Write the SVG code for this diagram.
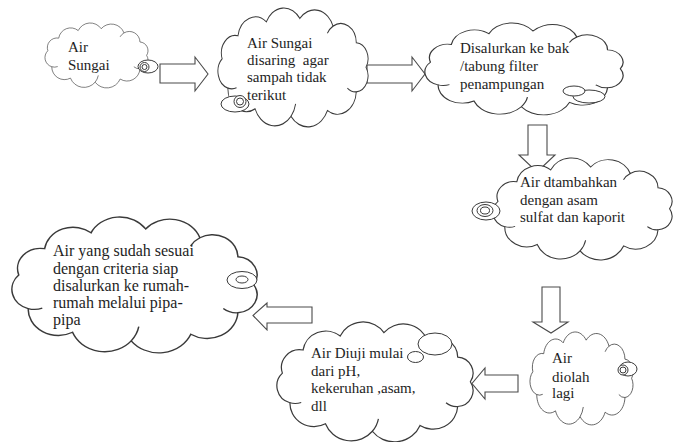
<svg xmlns="http://www.w3.org/2000/svg" xmlns:xlink="http://www.w3.org/1999/xlink" width="673" height="442" viewBox="0 0 673 442">
<style>
.cl{fill:#fff;stroke:#3a3a3a;stroke-width:1.1;vector-effect:non-scaling-stroke}
.ci{fill:none;stroke:#3a3a3a;stroke-width:1.1;vector-effect:non-scaling-stroke}
.bub{fill:#fff;stroke:#3a3a3a;stroke-width:1}
.ar{fill:#fff;stroke:#4a4a4a;stroke-width:1.1;stroke-linejoin:miter}
.t{font-family:"Liberation Serif","Times New Roman",serif;font-size:15px;fill:#1e1e1e}
.tl{font-size:16px}
</style>
<defs>
<path id="cloud" d="M22.1,79.5 A16.4,16.4 0 0 1 15.3,52 A16.6,16.6 0 0 1 34.1,30.4 A20.9,20.9 0 0 1 67.8,17.4 A23.1,23.1 0 0 1 107.5,14.2 A23.3,23.3 0 0 1 146.9,21.4 A18.4,18.4 0 0 1 174.5,37 A14.9,14.9 0 0 1 186,60 A14.9,14.9 0 0 1 174.5,83 A22.3,22.3 0 0 1 140.3,100.6 A25.3,25.3 0 0 1 97,106 A25.1,25.1 0 0 1 54.4,99 A21.9,21.9 0 0 1 22.1,79.5 Z"/>
<path id="inner" d="M174.5,83 A14.9,14.9 0 0 1 163.9,79.5 M97,106 A25.1,25.1 0 0 0 102.5,94.4 M22.1,79.5 A16.4,16.4 0 0 0 32.4,79.2 M146.9,21.4 A18.4,18.4 0 0 0 140.2,28.1"/>
</defs>

<g id="connectors">
<polygon class="ar" points="160,64 195,64 195,57 208,74 195,91 195,83 160,83"/>
<polygon class="ar" points="367,65 412,65 412,57 425,74 412,91 412,83 367,83"/>
<polygon class="ar" points="528,125 547,125 547,155 555,155 537,172 519,155 528,155"/>
<polygon class="ar" points="542,287 560,287 560,322 568,322 551,333 533,322 542,322"/>
<polygon class="ar" points="518,375 485,375 485,368 472,383.5 485,399 485,392 518,392"/>
<polygon class="ar" points="312,307 267,307 267,303 253,315.5 267,330 267,323 312,323"/>
</g>

<g id="n1">
<g transform="translate(38.98,20.44) scale(0.5787,0.5824)"><use href="#cloud" class="cl"/><use href="#inner" class="ci"/></g>
<ellipse class="bub" cx="148" cy="66.5" rx="10" ry="6.5"/>
<circle class="bub" cx="144.5" cy="67" r="4.5"/>
<circle class="bub" cx="144.5" cy="67" r="2.5"/>
<text class="t" x="68" y="52">Air</text>
<text class="t" x="68" y="70">Sungai</text>
</g>

<g id="n2">
<g transform="translate(209.24,3.31) scale(0.8427,1.0663)"><use href="#cloud" class="cl"/><use href="#inner" class="ci"/></g>
<ellipse class="bub" cx="235" cy="104" rx="14" ry="8"/>
<circle class="bub" cx="240" cy="101.5" r="6"/>
<circle class="bub" cx="240" cy="101.5" r="3.5"/>
<text class="t" x="247" y="48">Air Sungai</text>
<text class="t" x="247" y="65" xml:space="preserve">disaring  agar</text>
<text class="t" x="247" y="82">sampah tidak</text>
<text class="t" x="247" y="100">terikut</text>
</g>

<g id="n3">
<g transform="translate(413.43,19.37) scale(1.1124,0.8244)"><use href="#cloud" class="cl"/><use href="#inner" class="ci"/></g>
<ellipse class="bub" cx="589" cy="96.5" rx="16" ry="6.5"/>
<ellipse class="bub" cx="574" cy="91" rx="11" ry="5"/>
<text class="t" x="460" y="53">Disalurkan ke bak</text>
<text class="t" x="460" y="71">/tabung filter</text>
<text class="t" x="460" y="89">penampungan</text>
</g>

<g id="n4">
<g transform="translate(482.54,153.98) scale(1.0056,0.914)"><use href="#cloud" class="cl"/><use href="#inner" class="ci"/></g>
<ellipse class="bub" cx="486" cy="211" rx="14" ry="9"/>
<ellipse class="bub" cx="485" cy="210.5" rx="8" ry="6"/>
<ellipse class="bub" cx="485" cy="210.5" rx="4.5" ry="3.5"/>
<text class="t" x="520" y="187">Air dtambahkan</text>
<text class="t" x="520" y="205">dengan asam</text>
<text class="t" x="520" y="222">sulfat dan kaporit</text>
</g>

<g id="n5">
<g transform="translate(523.98,328.33) scale(0.5787,0.8333)"><use href="#cloud" class="cl"/><use href="#inner" class="ci"/></g>
<ellipse class="bub" cx="628" cy="369" rx="9" ry="7"/>
<circle class="bub" cx="623" cy="370" r="5"/>
<circle class="bub" cx="623" cy="370" r="3"/>
<text class="t" x="552" y="363">Air</text>
<text class="t" x="552" y="382">diolah</text>
<text class="t" x="552" y="398">lagi</text>
</g>

<g id="n6">
<g transform="translate(265.55,317.27) scale(1.1011,1.0753)"><use href="#cloud" class="cl"/><use href="#inner" class="ci"/></g>
<ellipse class="bub" cx="435" cy="344" rx="17" ry="11"/>
<ellipse class="bub" cx="415.5" cy="357" rx="8" ry="5.5"/>
<text class="t" x="311" y="358">Air Diuji mulai</text>
<text class="t" x="311" y="376">dari pH,</text>
<text class="t" x="311" y="393">kekeruhan ,asam,</text>
<text class="t" x="311" y="411">dll</text>
</g>

<g id="n7">
<g transform="translate(-2.31,211.64) scale(1.3764,1.2186)"><use href="#cloud" class="cl"/><use href="#inner" class="ci"/></g>
<ellipse class="bub" cx="242" cy="280" rx="15" ry="8.5"/>
<ellipse class="bub" cx="242" cy="279.5" rx="6" ry="3.5"/>
<text class="t tl" x="53" y="256">Air yang sudah sesuai</text>
<text class="t tl" x="53" y="274">dengan criteria siap</text>
<text class="t tl" x="53" y="291">disalurkan ke rumah-</text>
<text class="t tl" x="53" y="308">rumah melalui pipa-</text>
<text class="t tl" x="53" y="325">pipa</text>
</g>
</svg>
